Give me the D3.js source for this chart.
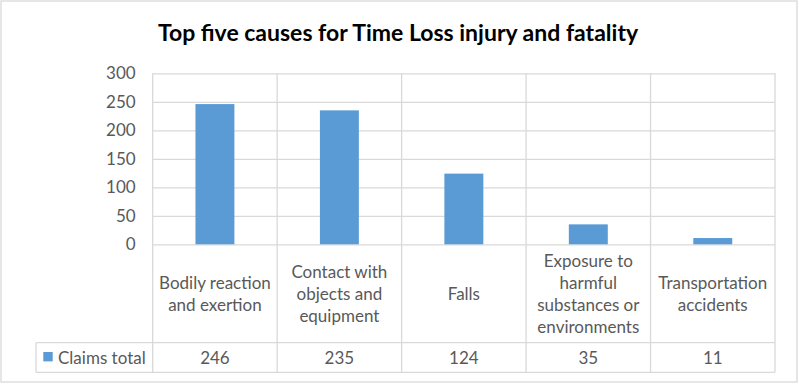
<!DOCTYPE html>
<html>
<head>
<meta charset="utf-8">
<script src="https://cdn.jsdelivr.net/npm/d3@7"></script>
<style>
  body { margin: 0; background: #fff; }
  text { font-family: Lato, "Open Sans", sans-serif; }
</style>
</head>
<body>
<script>
// chart data
var categories = ["Bodily reaction and exertion", "Contact with objects and equipment", "Falls",
                  "Exposure to harmful substances or environments", "Transportation accidents"];
var categoryLines = [["Bodily reaction", "and exertion"],
                     ["Contact with", "objects and", "equipment"],
                     ["Falls"],
                     ["Exposure to", "harmful", "substances or", "environments"],
                     ["Transportation", "accidents"]];
var claimsTotal = [246, 235, 124, 35, 11];
var yTicks = [0, 50, 100, 150, 200, 250, 300];
var seriesName = "Claims total";
var title = "Top five causes for Time Loss injury and fatality";

var W = 799, H = 384;
var grid = "#d9d9d9", txt = "#595959", barColor = "#5b9bd5";
var fs = "17px";

var svg = d3.select("body").append("svg").attr("width", W).attr("height", H);

// outer frame
svg.append("rect").attr("x", 1).attr("y", 1).attr("width", 796).attr("height", 381)
  .attr("fill", "#fff").attr("stroke", grid).attr("stroke-width", 1.3);

svg.append("text").attr("x", 398).attr("y", 41).attr("text-anchor", "middle")
  .style("font-size", "23px").style("font-weight", "bold").attr("fill", "#000")
  .text(title);

// plot + table layout (px)
var pLeft = 152.7, pRight = 775, pTop = 73.3, pBottom = 244.3;
var labelBottom = 342.7, tableBottom = 372.3, legendLeft = 36;

var x = d3.scaleBand().domain(d3.range(categories.length)).range([pLeft, pRight]);
var y = d3.scaleLinear().domain([0, 300]).range([pBottom, pTop]);

// horizontal gridlines + tick labels
var yAxis = d3.axisLeft(y).tickValues(yTicks).tickSize(-(pRight - pLeft)).tickPadding(17);
var gy = svg.append("g").attr("transform", "translate(" + pLeft + ",0)").call(yAxis);
gy.select(".domain").remove();
gy.selectAll(".tick line").attr("stroke", grid).attr("stroke-width", 1.3);
gy.selectAll(".tick text").attr("fill", txt).style("font-size", fs).style("font-family", "Lato, sans-serif");

// vertical lines: plot + table columns
var edges = d3.range(categories.length + 1).map(function(i){
  return i < categories.length ? x(i) : x(categories.length - 1) + x.bandwidth();
});
svg.selectAll(".vline").data(edges).enter().append("line")
  .attr("x1", function(d){ return d; }).attr("x2", function(d){ return d; })
  .attr("y1", pTop).attr("y2", tableBottom)
  .attr("stroke", grid).attr("stroke-width", 1.3);

// table horizontal lines
svg.append("line").attr("x1", legendLeft).attr("x2", pRight).attr("y1", labelBottom).attr("y2", labelBottom)
  .attr("stroke", grid).attr("stroke-width", 1.3);
svg.append("line").attr("x1", legendLeft).attr("x2", pRight).attr("y1", tableBottom).attr("y2", tableBottom)
  .attr("stroke", grid).attr("stroke-width", 1.3);
svg.append("line").attr("x1", legendLeft).attr("x2", legendLeft).attr("y1", labelBottom).attr("y2", tableBottom)
  .attr("stroke", grid).attr("stroke-width", 1.3);

// bars
var bw = x.bandwidth() * 0.313;
svg.selectAll(".bar").data(claimsTotal).enter().append("rect")
  .attr("x", function(d, i){ return x(i) + (x.bandwidth() - bw) / 2; })
  .attr("y", function(d){ return y(d); })
  .attr("width", bw)
  .attr("height", function(d){ return y(0) - y(d); })
  .attr("fill", barColor);

// category labels in table
var midLabel = (pBottom + labelBottom) / 2;
categoryLines.forEach(function(lines, i){
  var t = svg.append("text").attr("text-anchor", "middle").attr("fill", txt).style("font-size", fs);
  var y0 = midLabel - (lines.length - 1) * 11 + 6;
  lines.forEach(function(l, j){
    t.append("tspan").attr("x", x(i) + x.bandwidth() / 2).attr("y", y0 + j * 22).text(l);
  });
});

// values row
var midVal = (labelBottom + tableBottom) / 2 + 6;
svg.selectAll(".val").data(claimsTotal).enter().append("text")
  .attr("x", function(d, i){ return x(i) + x.bandwidth() / 2; })
  .attr("y", midVal).attr("text-anchor", "middle").attr("fill", txt).style("font-size", fs)
  .text(function(d){ return d; });

// legend key
svg.append("rect").attr("x", 43.3).attr("y", 352).attr("width", 9.4).attr("height", 9.4).attr("fill", barColor);
svg.append("text").attr("x", 58).attr("y", midVal).attr("fill", txt).style("font-size", fs).text(seriesName);
</script>
</body>
</html>
